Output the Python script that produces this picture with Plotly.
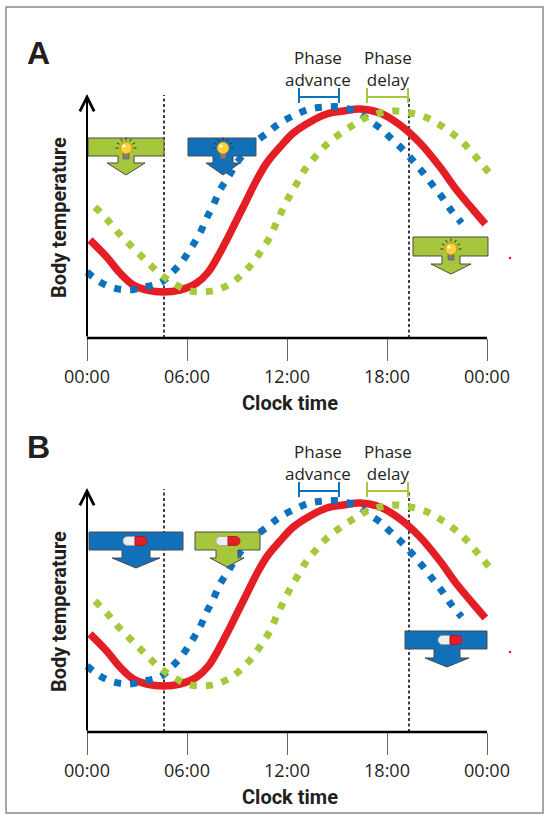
import math
import plotly.graph_objects as go

# clock time in hours, body temperature as height above the time axis (arbitrary units)
red_t = [0.18, 1.18, 1.98, 2.78, 3.58, 4.58, 5.58, 6.58, 7.28, 8.38, 8.98, 9.58, 10.18, 10.78,
         11.58, 12.38, 13.38, 14.38, 15.38, 16.38, 17.58, 18.78, 19.98, 21.18, 22.18, 23.18, 23.9]
red_v = [98, 81, 65, 53, 48, 46, 48, 55, 66, 98, 118, 138, 158, 175,
         191, 205, 216, 224, 227, 229, 225, 213, 195, 171, 148, 128, 114]

blue_t = [0.0, 0.78, 1.58, 2.58, 3.44, 4.38, 5.08, 5.68, 6.28, 6.78, 7.18, 7.58, 7.98, 8.48,
          8.98, 9.9, 10.88, 11.58, 12.48, 13.38, 14.28, 15.18, 16.22, 16.88, 17.58, 18.28,
          18.98, 19.62, 20.18, 20.78, 21.34, 21.88, 22.48]
blue_v = [66, 56, 50, 48, 51, 55, 65, 76, 91, 105, 120, 133, 148, 161,
          175, 193, 206, 215, 223, 229, 231, 231, 226, 218, 210, 199,
          188, 176, 165, 152, 140, 127, 115]

green_t = [0.48, 1.18, 1.78, 2.42, 3.08, 3.74, 4.38, 5.18, 5.98, 6.88, 7.78, 8.68, 9.38, 9.98,
           10.48, 10.98, 11.38, 11.78, 12.18, 12.64, 13.14, 13.68, 14.34, 15.08, 15.88, 16.68,
           17.58, 18.48, 19.38, 20.28, 21.08, 21.88, 22.58, 23.18, 23.78, 24.45]
green_v = [131, 119, 107, 96, 85, 74, 64, 55, 48, 46, 48, 55, 65, 76,
           88, 101, 116, 130, 143, 156, 170, 181, 193, 203, 212, 220,
           225, 227, 225, 221, 214, 205, 195, 184, 172, 159]

tick_vals = [0, 6, 12, 18, 24]
tick_text = ['00:00', '06:00', '12:00', '18:00', '00:00']

W, H = 550, 821
X0, PX_H = 87, 16.667      # pixel column of 00:00 and pixels per hour
AXIS_Y = [338, 732]        # pixel row of the time axis in panel A and B
RED = '#e31e25'
BLUE = '#0d72bd'
GREEN = '#a4c93b'
BOX_BLUE = '#1170b8'
BOX_GREEN = '#a6c63c'
INK = '#231f20'


def pp(x, y):
    # pixel -> paper
    return x / W, 1 - y / H


def hr(x):
    return (x - X0) / PX_H


def path(segs):
    # plotly takes one coordinate set per command, so repeat the letter
    out = []
    for cmd, pts in segs:
        n = 3 if cmd == 'C' else 1
        for k in range(0, len(pts), n):
            out.append(cmd + ' '.join('%.5f,%.5f' % pp(x, y) for x, y in pts[k:k + n]))
    return ' '.join(out) + ' Z'


def paper_rect(x0, y0, x1, y1, **kw):
    a, b = pp(x0, y0)
    c, d = pp(x1, y1)
    return dict(type='rect', xref='paper', yref='paper', x0=a, y0=b, x1=c, y1=d, **kw)


def paper_circle(cx, cy, r, **kw):
    return paper_rect(cx - r, cy - r, cx + r, cy + r, **kw) | dict(type='circle')


def arrow_box(x0, y0, x1, y1, cx, sw, hw, ys, ya, color):
    p = path([('M', [(x0, y0)]), ('L', [(x1, y0), (x1, y1), (cx + sw, y1), (cx + sw, ys),
                                        (cx + hw, ys), (cx, ya), (cx - hw, ys), (cx - sw, ys),
                                        (cx - sw, y1), (x0, y1)])])
    return [dict(type='path', xref='paper', yref='paper', path=p, fillcolor=color,
                 line=dict(color='#4a4a4a', width=1), layer='above')]


def bulb(cx, cy):
    s = []
    for a in [0, 30, 60, 90, 120, 150, 180]:
        r = math.radians(a)
        x_a, y_a = pp(cx + 7.5 * math.cos(r), cy - 7.5 * math.sin(r))
        x_b, y_b = pp(cx + 10.5 * math.cos(r), cy - 10.5 * math.sin(r))
        s.append(dict(type='line', xref='paper', yref='paper', x0=x_a, y0=y_a, x1=x_b, y1=y_b,
                      line=dict(color='#333333', width=1), layer='above'))
    s.append(paper_rect(cx - 3, cy + 4, cx + 3, cy + 11, fillcolor='#7d7d7d',
                        line=dict(color='#555555', width=0.6), layer='above'))
    s.append(paper_circle(cx, cy, 5.8, fillcolor='#fdd23a',
                          line=dict(color='#e29a00', width=1), layer='above'))
    s.append(paper_circle(cx - 2, cy - 2, 1.6, fillcolor='white',
                          line=dict(width=0), layer='above'))
    return s


def pill(cx, cy):
    left = path([('M', [(cx, cy - 4.5)]), ('L', [(cx - 7.5, cy - 4.5)]),
                 ('C', [(cx - 13.5, cy - 4.5), (cx - 13.5, cy + 4.5), (cx - 7.5, cy + 4.5)]),
                 ('L', [(cx, cy + 4.5)])])
    right = path([('M', [(cx, cy - 4.5)]), ('L', [(cx + 7.5, cy - 4.5)]),
                  ('C', [(cx + 13.5, cy - 4.5), (cx + 13.5, cy + 4.5), (cx + 7.5, cy + 4.5)]),
                  ('L', [(cx, cy + 4.5)])])
    return [dict(type='path', xref='paper', yref='paper', path=left, fillcolor='#eeeeee',
                 line=dict(color='#a0a0a0', width=0.8), layer='above'),
            dict(type='path', xref='paper', yref='paper', path=right, fillcolor='#e41e26',
                 line=dict(color='#b51218', width=0.8), layer='above')]


def paper_text(x, y, text, font, **kw):
    a, b = pp(x, y)
    return dict(x=a, y=b, xref='paper', yref='paper', text=text, showarrow=False,
                xanchor='center', yanchor='middle', font=font, **kw)


fig = go.Figure()
shapes = []
annotations = []

for i, label in enumerate(['A', 'B']):
    sfx = '' if i == 0 else '2'
    xa, ya = 'x' + sfx, 'y' + sfx
    dy = AXIS_Y[i] - AXIS_Y[0]

    fig.add_trace(go.Scatter(x=red_t, y=red_v, mode='lines', xaxis=xa, yaxis=ya,
                             line=dict(color=RED, width=7.5, shape='spline'), hoverinfo='skip'))
    fig.add_trace(go.Scatter(x=blue_t, y=blue_v, mode='lines', xaxis=xa, yaxis=ya,
                             line=dict(color=BLUE, width=7, dash='7px,9px', shape='spline'),
                             hoverinfo='skip'))
    fig.add_trace(go.Scatter(x=green_t, y=green_v, mode='lines', xaxis=xa, yaxis=ya,
                             line=dict(color=GREEN, width=7, dash='7px,9px', shape='spline'),
                             hoverinfo='skip'))

    # light / dark boundaries
    for t, top in [(hr(164), 243), (hr(409), 241)]:
        shapes.append(dict(type='line', xref=xa, yref=ya, x0=t, x1=t, y0=0, y1=top,
                           line=dict(color='black', width=1.5, dash='3px,2.5px'), layer='below'))
    # time axis
    shapes.append(dict(type='line', xref=xa, yref=ya, x0=0, x1=24, y0=0, y1=0,
                       line=dict(color='black', width=2.5)))
    # phase brackets
    for t0, t1, c in [(hr(299), hr(339), BLUE), (hr(367), hr(408), GREEN)]:
        shapes.append(dict(type='line', xref=xa, yref=ya, x0=t0, x1=t1, y0=241, y1=241,
                           line=dict(color=c, width=2)))
        for t in (t0, t1):
            shapes.append(dict(type='line', xref=xa, yref=ya, x0=t, x1=t, y0=235, y1=250,
                               line=dict(color=c, width=2)))

    # body temperature axis with arrow head
    annotations.append(dict(x=0, y=244, ax=0, ay=0, xref=xa, yref=ya, axref=xa, ayref=ya,
                            text='', showarrow=True, arrowhead=5, arrowsize=1.4,
                            arrowwidth=2, arrowcolor='black', standoff=0))
    annotations.append(dict(x=hr(318), y=270, xref=xa, yref=ya, text='Phase<br>advance',
                            showarrow=False, font=dict(family='Open Sans', size=17, color=INK)))
    annotations.append(dict(x=hr(388), y=270, xref=xa, yref=ya, text='Phase<br>delay',
                            showarrow=False, font=dict(family='Open Sans', size=17, color=INK)))

    annotations.append(paper_text(289.5, 403 + dy, 'Clock time',
                                  dict(family='Roboto', size=20, weight='bold', color=INK)))
    annotations.append(paper_text(59, 218 + dy, 'Body temperature',
                                  dict(family='Roboto', size=20, weight='bold', color=INK),
                                  textangle=-90))
    annotations.append(paper_text(38, 53 + dy, label,
                                  dict(family='Liberation Sans', size=32, weight='bold',
                                       color=INK)))

    # stray red speck at the right edge
    shapes.append(paper_circle(510, 258 + dy, 1.3, fillcolor=RED, line=dict(width=0)))

# panel A: light exposure
shapes += arrow_box(88, 138, 164, 156, 126, 8, 19, 163, 175, BOX_GREEN) + bulb(126, 148)
shapes += arrow_box(188, 138, 256, 156, 223, 10, 17, 163, 175, BOX_BLUE) + bulb(223, 148)
shapes += arrow_box(413, 237, 488, 256, 451, 9, 20, 264, 274, BOX_GREEN) + bulb(451, 249)
# panel B: melatonin / medication
shapes += arrow_box(89, 532, 183, 550, 136, 14, 24, 558, 568, BOX_BLUE) + pill(135, 541)
shapes += arrow_box(195, 532, 260, 550, 227, 11, 17, 558, 567, BOX_GREEN) + pill(228, 541)
shapes += arrow_box(405, 631, 487, 649, 447, 13, 22, 658, 667, BOX_BLUE) + pill(450, 640)

# outer frame
shapes.append(paper_rect(6, 7, 543, 813, line=dict(color='#8c8c8c', width=1.5)))

x_range = [hr(0), hr(W)]
axis_common = dict(range=x_range, domain=[0, 1], anchor='free', tickmode='array',
                   tickvals=tick_vals, ticktext=tick_text, ticks='outside', ticklen=22,
                   tickwidth=1.2, tickcolor='#666666', showline=False, showgrid=False,
                   zeroline=False, fixedrange=True,
                   tickfont=dict(family='Open Sans', size=18, color=INK))
y_common = dict(visible=False, fixedrange=True)

fig.update_layout(
    width=W, height=H, autosize=False,
    margin=dict(l=0, r=0, t=0, b=0),
    paper_bgcolor='white', plot_bgcolor='white',
    showlegend=False,
    xaxis=dict(axis_common, position=1 - AXIS_Y[0] / H),
    xaxis2=dict(axis_common, position=1 - AXIS_Y[1] / H),
    yaxis=dict(y_common, domain=[0.5, 1], range=[AXIS_Y[0] - H / 2, AXIS_Y[0]]),
    yaxis2=dict(y_common, domain=[0, 0.5], range=[AXIS_Y[1] - H, AXIS_Y[1] - H / 2]),
    shapes=shapes,
    annotations=annotations,
)

fig.write_html("out.html", config={'displayModeBar': False},
               post_script="document.body.style.margin='0';")
